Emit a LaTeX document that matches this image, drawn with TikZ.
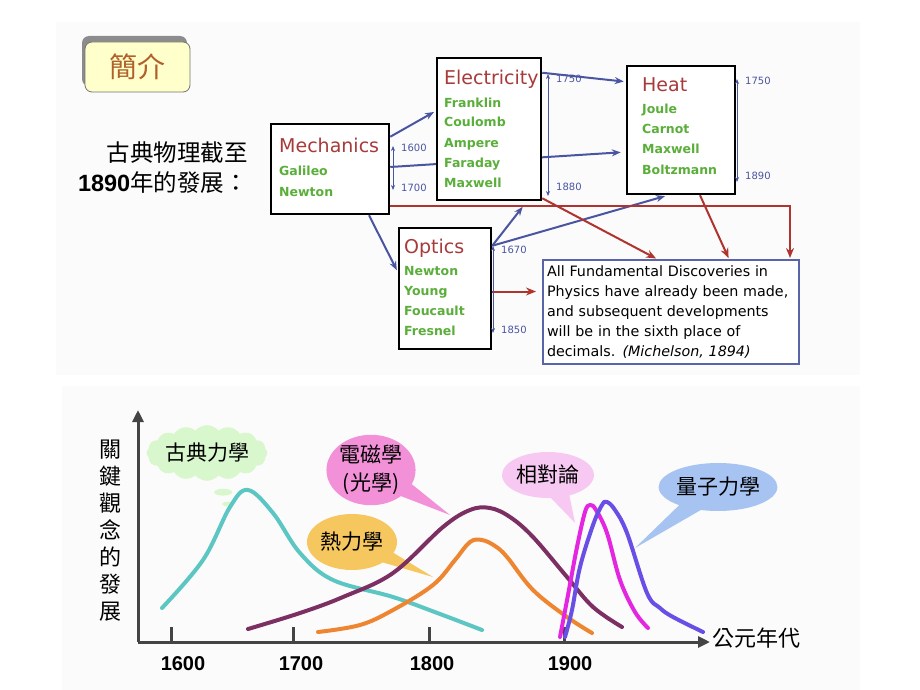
\documentclass[tikz,border=0pt]{standalone}
\usepackage{fontspec}
\setmainfont{DejaVu Sans}
\newfontfamily\cjkfont{Noto Sans CJK TC}
\newfontfamily\numfont{Liberation Sans}
\usepackage{tikz}
\usetikzlibrary{
    positioning,
    arrows.meta,
    shapes.geometric,
    shapes.symbols,
    shapes.callouts,
    shadows,
    calc,
}
\definecolor{titlered}{HTML}{A83A3A}
\definecolor{namegreen}{HTML}{5AAE3A}
\definecolor{arrowblue}{HTML}{4A55A2}
\definecolor{arrowred}{HTML}{B0342E}
\definecolor{quoteblue}{HTML}{5A64A8}
\definecolor{introfill}{HTML}{FFFFCC}
\definecolor{introtext}{HTML}{B0602A}
\definecolor{axisgray}{HTML}{444444}
\definecolor{classicline}{HTML}{5CC6C2}
\definecolor{emline}{HTML}{7C2F62}
\definecolor{heatline}{HTML}{EE8530}
\definecolor{relline}{HTML}{E426E0}
\definecolor{quantline}{HTML}{6A4FE6}
\definecolor{classicfill}{HTML}{D9F7CC}
\definecolor{emfill}{HTML}{F290D8}
\definecolor{heatfill}{HTML}{F6C75E}
\definecolor{relfill}{HTML}{F7C8F2}
\definecolor{quantfill}{HTML}{A6C3F2}
\tikzset{
    % Top diagram: boxes and texts
    intro box/.style={rectangle, rounded corners=7pt, draw=black!55, line width=0.8pt,
                      fill=introfill, minimum width=105pt, minimum height=50pt,
                      text=introtext, font=\cjkfont\fontsize{28}{30}\selectfont,
                      drop shadow={shadow xshift=-3pt, shadow yshift=6pt, opacity=1, fill=black!45}},
    field box/.style={rectangle, draw=black, line width=2.5pt, fill=white, inner sep=0pt},
    field title/.style={anchor=base west, inner sep=0pt, text=titlered,
                        font=\fontsize{19}{22}\selectfont},
    person/.style={anchor=base west, inner sep=0pt, text=namegreen,
                   font=\bfseries\fontsize{12.5}{15}\selectfont},
    quote box/.style={rectangle, draw=quoteblue, line width=2pt, fill=white,
                      minimum width=256pt, minimum height=104pt, text width=248pt,
                      inner sep=4pt, align=left, font=\fontsize{14.3}{20}\selectfont},
    % Arrow styles
    blue arrow/.style={-{Stealth[length=9pt, width=7pt]}, line width=2pt, draw=arrowblue},
    red arrow/.style={-{Stealth[length=10pt, width=8pt]}, line width=2pt, draw=arrowred},
    year arrow/.style={{Stealth[length=5pt, width=4pt]}-{Stealth[length=5pt, width=4pt]},
                       line width=0.8pt, draw=arrowblue},
    year label/.style={anchor=west, inner sep=0pt, text=arrowblue,
                       font=\fontsize{10}{11}\selectfont},
    % Chart styles
    chart axis/.style={line width=3pt, draw=axisgray, -{Triangle[length=12pt, width=11pt]}},
    year tick/.style={line width=3pt, draw=axisgray},
    tick label/.style={anchor=base, inner sep=0pt, font=\numfont\bfseries\fontsize{20}{24}\selectfont},
    trend/.style={line width=4pt, line cap=round, line join=round},
    bubble/.style={ellipse callout, draw=none, inner sep=0pt, align=center,
                   font=\cjkfont\fontsize{21}{28}\selectfont},
    cjk label/.style={inner sep=0pt, font=\cjkfont\fontsize{22}{27}\selectfont},
}

\begin{document}
\begin{tikzpicture}[x=1pt, y=-1pt]
    \useasboundingbox (0,0) rectangle (920,690);

    % faint panels
    \fill[black!1.5] (56,22) rectangle (860,375);
    \fill[black!1.5] (62,386) rectangle (860,690);

    % Title and caption
    \node[intro box] (intro) at (137.5,67) {簡介};
    \node[cjk label, align=right, anchor=east, font=\cjkfont\fontsize{23.5}{30}\selectfont]
        (caption) at (248,168) {古典物理截至\\{\numfont\bfseries 1890}年的發展：};

    % Fields of physics
    \node[field box, minimum width=118pt, minimum height=90pt] (mech) at (330,169) {};
    \node[field box, minimum width=108pt, minimum height=128pt] (heat) at (681,130) {};
    % Mechanics -> Heat runs behind Electricity
    \draw[blue arrow, shorten >=5pt] ([yshift=2pt]mech.east) -- ([yshift=-22pt]heat.west);
    \node[field box, minimum width=104pt, minimum height=142pt] (elec) at (489,129) {};
    \node[field box, minimum width=92pt, minimum height=121pt] (optics) at (445,288.5) {};
    \node[quote box] (quote) at (671,312) {All Fundamental Discoveries in\\
        Physics have already been made,\\
        and subsequent developments\\
        will be in the sixth place of\\
        decimals. \textit{(Michelson, 1894)}};

    \node[field title] (mech-t) at (279,152) {Mechanics};
    \foreach \name [count=\i] in {Galileo, Newton} {
        \node[person] (mech-\i) at (279, 154+21*\i) {\name};
    }
    \node[field title] (elec-t) at (444,85) {Electricity};
    \foreach \name [count=\i] in {Franklin, Coulomb, Ampere, Faraday, Maxwell} {
        \node[person] (elec-\i) at (444, 87+20*\i) {\name};
    }
    \node[field title] (heat-t) at (642,92) {Heat};
    \foreach \name [count=\i] in {Joule, Carnot, Maxwell, Boltzmann} {
        \node[person] (heat-\i) at (642, 93+20.3*\i) {\name};
    }
    \node[field title] (optics-t) at (404,253) {Optics};
    \foreach \name [count=\i] in {Newton, Young, Foucault, Fresnel} {
        \node[person] (optics-\i) at (404, 255+20*\i) {\name};
    }

    % Influence arrows
    \draw[blue arrow, shorten >=2pt] ([yshift=-14pt]mech.north east) -- ([yshift=18pt]elec.west);
    \draw[blue arrow, shorten >=2pt] ([yshift=-16pt]elec.north east) -- ([yshift=-17pt]heat.north west);
    \draw[blue arrow, shorten >=2pt] ([xshift=39pt]mech.south) -- ([yshift=16.5pt]optics.west);
    \draw[blue arrow, shorten >=7pt] ([yshift=-19pt]optics.north east) -- ([xshift=38pt]elec.south);
    \draw[blue arrow, shorten >=3pt] ([yshift=-19pt]optics.north east) -- ([xshift=-13pt]heat.south);

    \draw[red arrow, shorten >=1pt] ([yshift=9pt]mech.south east) -| ([xshift=-10pt]quote.north east);
    \draw[red arrow, shorten >=1pt] ([yshift=3pt]elec.south east) -- ([xshift=-14pt]quote.north);
    \draw[red arrow, shorten >=1pt] ([xshift=19pt]heat.south) -- ([xshift=58pt]quote.north);
    \draw[red arrow, shorten >=6pt] ([yshift=-3pt]optics.east) -- ([yshift=20.5pt]quote.west);

    % Year spans
    \foreach \n/\x/\ya/\yb/\la/\lb/\ta/\tb in {
        mech/393/146/190/148/188/1600/1700,
        elec/548/74/196/79/187/1750/1880,
        heat/737/79/182/81/176/1750/1890,
        optics/493/246/333/250/330/1670/1850} {
        \coordinate (\n-from) at (\x,\ya);
        \coordinate (\n-to) at (\x,\yb);
        \draw[year arrow] (\n-from) -- (\n-to);
        \node[year label] (\n-ya) at (\x+8,\la) {\ta};
        \node[year label] (\n-yb) at (\x+8,\lb) {\tb};
    }

    % Chart axes
    \coordinate (origin) at (138,642);
    \coordinate (ytop) at (138,410);
    \coordinate (xend) at (710,642);
    \draw[chart axis] (origin) -- (ytop);
    \draw[chart axis] (origin) -- (xend);
    \foreach \x/\lx/\t in {171/183/1600, 293/301/1700, 429/432/1800, 564/570/1900} {
        \coordinate (tick-\t) at (\x,642);
        \draw[year tick] (tick-\t) -- ++(0,-15);
        \node[tick label] (lbl-\t) at (\lx,670) {\t};
    }
    \node[cjk label, anchor=west] (xlabel) at (712,638) {公元年代};
    \node[cjk label, align=center] (ylabel) at (110,531) {關\\鍵\\觀\\念\\的\\發\\展};

    % Callouts
    \coordinate (classic-tip) at (228,504);
    \coordinate (em-tip) at (450,515);
    \coordinate (heat-tip) at (433,577);
    \coordinate (rel-tip) at (575,523);
    \coordinate (quant-tip) at (635,548);
    \node[cloud callout, cloud puffs=16, cloud puff arc=100, aspect=2.6, fill=classicfill, inner sep=0pt,
          minimum width=104pt, minimum height=40pt, callout absolute pointer={(classic-tip)},
          font=\cjkfont\fontsize{21}{26}\selectfont] (classic) at (207,453) {古典力學};
    \node[bubble, fill=emfill, minimum width=80pt, minimum height=70pt,
          callout absolute pointer={(em-tip)}, callout pointer arc=24] (em) at (371,470) {電磁學\\(光學)};
    \node[bubble, fill=heatfill, minimum width=90pt, minimum height=56pt,
          callout absolute pointer={(heat-tip)}, callout pointer arc=24] (thermo) at (352,542) {熱力學};
    \node[bubble, fill=relfill, minimum width=92pt, minimum height=46pt,
          callout absolute pointer={(rel-tip)}, callout pointer arc=24] (rel) at (548,475) {相對論};
    \node[bubble, fill=quantfill, minimum width=112pt, minimum height=48pt,
          callout absolute pointer={(quant-tip)}, callout pointer arc=24] (quant) at (718,487) {量子力學};

    % Curves
    \draw[trend, classicline] plot[smooth, tension=0.6] coordinates {(162,608) (203,560) (230,507)
        (248,490) (273,513) (300,553) (333,580) (393,597) (440,614) (482,630)};
    \draw[trend, emline] plot[smooth, tension=0.6] coordinates {(248,629) (300,613) (343,597)
        (393,573) (443,527) (470,510) (490,508) (510,517) (533,537) (567,577) (593,607) (622,627)};
    \draw[trend, heatline] plot[smooth, tension=0.6] coordinates {(318,632) (360,625) (393,610)
        (433,585) (455,560) (470,542) (482,540) (495,546) (507,557) (533,590) (567,617) (592,633)};
    \draw[trend, relline] plot[smooth, tension=0.6] coordinates {(560,637) (568,595) (577,547)
        (585,512) (590,505) (596,510) (607,533) (620,580) (635,612) (648,628)};
    \draw[trend, quantline] plot[smooth, tension=0.6] coordinates {(565,637) (572,610) (580,567)
        (593,525) (602,505) (607,502) (615,510) (627,533) (647,593) (660,608) (673,617) (703,632)};
\end{tikzpicture}
\end{document}
